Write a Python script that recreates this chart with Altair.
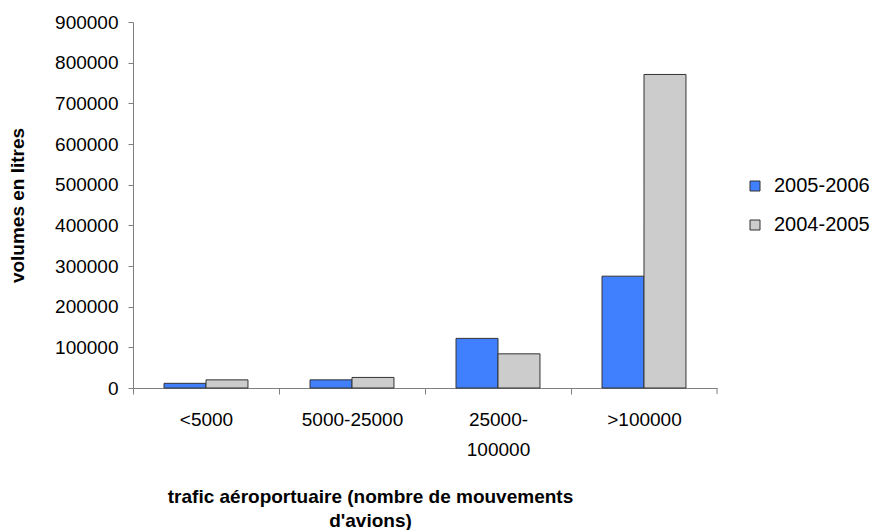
import altair as alt
import pandas as pd

categories = ["<5000", "5000-25000", "25000-100000", ">100000"]
series = ["2005-2006", "2004-2005"]
v_2005_2006 = [11500, 20000, 122000, 275000]
v_2004_2005 = [20000, 26000, 84000, 771000]
y_ticks = [0, 100000, 200000, 300000, 400000, 500000, 600000, 700000, 800000, 900000]
colors = ["#4080FF", "#CCCCCC"]

rows = []
for c, a, b in zip(categories, v_2005_2006, v_2004_2005):
    rows.append({"cat": c, "serie": series[0], "val": a})
    rows.append({"cat": c, "serie": series[1], "val": b})
df = pd.DataFrame(rows)

FONT = "Liberation Sans"
W, H = 584, 366
STEP = W / len(categories)

bars = alt.Chart(df).mark_bar(stroke="#333333", strokeWidth=1).encode(
    x=alt.X("cat:N", sort=categories,
            scale=alt.Scale(paddingInner=0.425, paddingOuter=0.2125),
            axis=alt.Axis(
                title=["trafic aéroportuaire (nombre de mouvements", "d'avions)"],
                labelAngle=0, tickOffset=-STEP / 2, labelOffset=STEP / 2,
                labelExpr="datum.label == '25000-100000' ? ['25000-', '100000'] : datum.label",
                labelLineHeight=30, labelFontSize=19, labelFont=FONT, labelColor="#000000",
                labelPadding=16, labelBaseline="top",
                titleFont=FONT, titleFontSize=19, titleFontWeight="bold", titleColor="#000000",
                titleLineHeight=24, titleX=237, titleY=99, titleBaseline="top",
                domainColor="#808080", tickColor="#808080", tickSize=6,
            )),
    xOffset=alt.XOffset("serie:N", sort=series),
    y=alt.Y("val:Q", scale=alt.Scale(domain=[0, 900000], nice=False),
            axis=alt.Axis(
                title="volumes en litres", values=y_ticks, grid=False, format="d",
                labelFontSize=19, labelFont=FONT, labelColor="#000000", labelPadding=10,
                titleFont=FONT, titleFontSize=19, titleFontWeight="bold", titleColor="#000000",
                titleX=-106, titleY=183,
                domainColor="#808080", tickColor="#808080", tickSize=5,
            )),
    color=alt.Color("serie:N", sort=series,
                    scale=alt.Scale(domain=series, range=colors),
                    legend=alt.Legend(
                        title=None, orient="none", legendX=612, legendY=154,
                        symbolType="square", symbolSize=100, symbolStrokeColor="#333333",
                        symbolStrokeWidth=1, labelFontSize=20, labelFont=FONT,
                        labelColor="#000000", labelOffset=9, rowPadding=19, padding=0,
                    )),
)

# closing tick at the right end of the category axis
end_tick = alt.Chart(pd.DataFrame({"k": [0]})).mark_rule(color="#808080", strokeWidth=1).encode(
    x=alt.value(W), y=alt.value(H), y2=alt.value(H + 6)
)

chart = alt.layer(bars, end_tick).properties(
    width=W, height=H,
    autosize=alt.AutoSizeParams(type="none"),
    padding={"left": 133, "top": 22, "right": 157, "bottom": 142},
).configure(background="#FFFFFF").configure_view(strokeWidth=0)

chart.save("out.html", embed_options={"renderer": "svg", "actions": False})
